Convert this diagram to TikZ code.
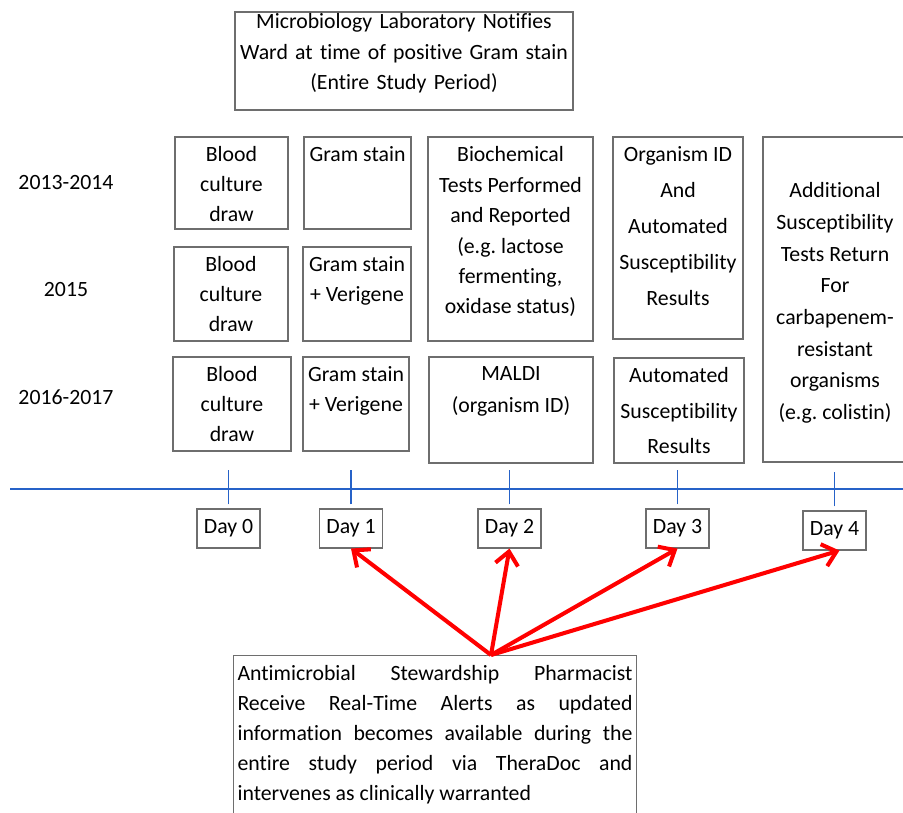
\documentclass[tikz,border=0pt]{standalone}
\usepackage{fontspec}
\setmainfont{Carlito}[Ligatures = NoCommon]
\usepackage{tikz}
\usetikzlibrary{arrows.meta, fit}

\definecolor{boxgray}{RGB}{110,110,110}
\definecolor{lineblue}{RGB}{38,98,200}
\frenchspacing

\begin{document}
\begin{tikzpicture}[
        x = 0.02cm, y = -0.02cm, % one unit per pixel, y runs down
        font = \fontsize{12.4}{17}\selectfont,
        cell/.style = {draw = boxgray, line width = 0.6pt, inner sep = 0pt},
        celltext/.style = {anchor = north, align = center, inner sep = 0.2cm}, % text at the top of a cell
        daybox/.style = {draw = boxgray, line width = 0.6pt, minimum width = 1.26cm,
            minimum height = 0.78cm, inner sep = 0pt},
        tick/.style = {draw = lineblue, line width = 0.8pt},
        alertarrow/.style = {draw = red, line width = 2.3pt,
            -{Straight Barb[length = 7.5pt, width = 13pt]}} % open red arrow
    ]
    \useasboundingbox (0,0) rectangle (903,812);

    % lab notification
    \node[cell, fit = {(235,12) (573,110)}, align = center,
        font = \fontsize{12.4}{17.4}\selectfont] (notify)
        {Microbiology Laboratory Notifies\\Ward at time of positive Gram stain\\(Entire Study Period)};

    % study periods
    \node (y1) at (66,183) {2013-2014};
    \node (y2) at (66,289) {2015};
    \node (y3) at (66,397) {2016-2017};

    % day 0 and day 1 cells
    \node[cell, fit = {(175,137) (288,229)}, label = {[celltext]north:Blood\\culture\\draw}] (blood1) {};
    \node[cell, fit = {(174,247) (288,341)}, label = {[celltext]north:Blood\\culture\\draw}] (blood2) {};
    \node[cell, fit = {(173,357) (291,451)}, label = {[celltext]north:Blood\\culture\\draw}] (blood3) {};
    \node[cell, fit = {(304,137) (411,229)}, label = {[celltext]north:Gram stain}] (gram1) {};
    \node[cell, fit = {(303,247) (411,341)}, label = {[celltext]north:Gram stain\\+ Verigene}] (gram2) {};
    \node[cell, fit = {(303,357) (409,451)}, label = {[celltext]north:Gram stain\\+ Verigene}] (gram3) {};

    % day 2 and day 3 cells
    \node[cell, fit = {(428,137) (593,341)},
        label = {[celltext, font = \fontsize{12.4}{17.3}\selectfont]north:Biochemical\\Tests Performed\\and Reported\\(e.g. lactose\\fermenting,\\oxidase status)}] (biochem) {};
    \node[cell, fit = {(429,357) (593,463)},
        label = {[celltext, font = \fontsize{12.4}{18.2}\selectfont]north:MALDI\\(organism ID)}] (maldi) {};
    \node[cell, fit = {(613,137) (743,339)},
        label = {[celltext, font = \fontsize{12.4}{20.5}\selectfont]north:Organism ID\\And\\Automated\\Susceptibility\\Results}] (orgid) {};
    \node[cell, fit = {(614,358) (744,463)},
        label = {[celltext, font = \fontsize{12.4}{20.2}\selectfont]north:Automated\\Susceptibility\\Results}] (autosus) {};

    % day 4 cell
    \node[cell, fit = {(763,137) (907,462)},
        label = {[celltext, yshift = -0.72cm, font = \fontsize{12.4}{18}\selectfont]north:Additional\\Susceptibility\\Tests Return\\For\\carbapenem-\\resistant\\organisms\\(e.g. colistin)}] (addl) {};

    % time line
    \coordinate (tlstart) at (10,489);
    \coordinate (tlend) at (910,489);
    \draw[lineblue, line width = 1.1pt] (tlstart) -- (tlend);

    \node[daybox] (d0) at (228.5,528.5) {Day 0};
    \node[daybox] (d1) at (351,528.5) {Day 1};
    \node[daybox] (d2) at (509.5,528.5) {Day 2};
    \node[daybox] (d3) at (677.5,528.5) {Day 3};
    \node[daybox] (d4) at (834.5,530.5) {Day 4};

    \draw[tick] (d0.north) ++(0,-4) -- ++(0,-34);
    \draw[tick] (d1.north) ++(0,-4) -- ++(0,-34);
    \draw[tick] (d2.north) ++(0,-4) -- ++(0,-34);
    \draw[tick] (d3.north) ++(0,-4) -- ++(0,-34);
    \draw[tick] (d4.north) ++(0,-4) -- ++(0,-34);

    % pharmacist alerts
    \node[cell, anchor = north west, text width = 7.9cm, align = justify,
        inner xsep = 0.08cm, inner ysep = 0.2cm] (alerts) at (233,655)
        {Antimicrobial Stewardship Pharmacist\linebreak
        Receive Real-Time Alerts as updated\linebreak
        information becomes available during the\linebreak
        entire study period via TheraDoc and\linebreak
        intervenes as clinically warranted};
    \coordinate (apex) at (491,655);

    \draw[alertarrow] (apex) -- (d1.south);
    \draw[alertarrow] (apex) -- (d2.south);
    \draw[alertarrow] (apex) -- (d3.south);
    \draw[alertarrow] (apex) -- ([xshift = 0.1cm]d4.south);
\end{tikzpicture}
\end{document}
